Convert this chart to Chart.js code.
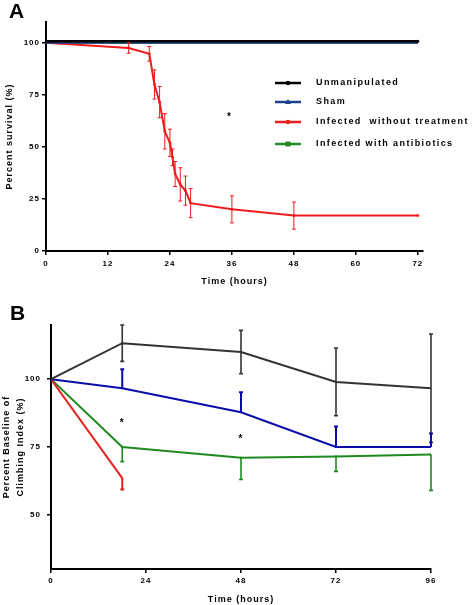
<!DOCTYPE html>
<html><head><meta charset="utf-8">
<script src="https://cdn.jsdelivr.net/npm/chart.js@4"></script>
<style>
html,body{margin:0;padding:0;background:#fff;}
#wrap{position:relative;width:473px;height:605px;overflow:hidden;font-family:"Liberation Sans",Arial,sans-serif;}
canvas{position:absolute;left:0;}
#cA{top:0;} #cB{top:295px;}
.lbl{position:absolute;font-weight:bold;font-size:21px;line-height:1;color:#000;}
</style></head><body>
<div id="wrap">
<canvas id="cA" width="473" height="290"></canvas>
<canvas id="cB" width="473" height="310"></canvas>
<div class="lbl" style="left:9px;top:0px">A</div>
<div class="lbl" style="left:10px;top:302px">B</div>
</div>
<script>
// panel A - survival
const survTime = [0,16,20,21,22,23,24,24.5,25,26,27,28,36,48,72];
const survInfected = [100,97.5,94.7,80,71.5,57.5,52,45,37,32,29,23,20,17,17];
const survInfectedErr = [0,2.5,3.5,7,7.5,8.5,6.5,4,6,8,7,7,6.5,6.5,0];
const survFlatTime = [0,72];
const survUnmanipulated = [100.8,100.8];
const survSham = [100,100];
const survAntibiotics = [100,100];
const survXTicks = [0,12,24,36,48,60,72];
const survYTicks = [0,25,50,75,100];
const survStars = [[35.5,65]];

// panel B - climbing index
const climbTime = [0,18,48,72,96];
const climbUnmanipulated = [100,113.3,110,99,96.7];
const climbUnmanipulatedErr = [0,6.7,8,12.5,20];
const climbSham = [100,96.7,87.8,75,75];
const climbShamErr = [0,7,7.4,7.6,5];
const climbInfectedTime = [0,18];
const climbInfected = [100,63.5];
const climbInfectedErr = [0,4.2];
const climbAntibiotics = [100,75,71,71.5,72.2];
const climbAntibioticsErr = [0,5.4,8,5.5,13.2];
const climbXTicks = [0,24,48,72,96];
const climbYTicks = [50,75,100];
const climbStars = [[18,84.5],[48,78.5]];

const FONT = '"Liberation Sans", Arial, sans-serif';
const pts = (xs, ys) => xs.map((x,i) => ({x, y:ys[i]}));

const spacing = { id:'spacing', beforeDraw(c){ c.ctx.letterSpacing = '1px'; } };

const errorBars = {
  id:'errorBars',
  afterDatasetsDraw(chart){
    const {ctx, scales:{x,y}} = chart;
    chart.data.datasets.forEach(ds => {
      if(!ds.errUp && !ds.errDown) return;
      ctx.save();
      ctx.strokeStyle = ds.borderColor; ctx.lineWidth = ds.errWidth || 1.2;
      ds.data.forEach((p,i) => {
        const up = ds.errUp ? ds.errUp[i] : 0, dn = ds.errDown ? ds.errDown[i] : 0;
        if(!up && !dn) return;
        const px = x.getPixelForValue(p.x), y1 = y.getPixelForValue(p.y+up), y2 = y.getPixelForValue(p.y-dn);
        ctx.beginPath(); ctx.moveTo(px,y1); ctx.lineTo(px,y2);
        if(up){ ctx.moveTo(px-2,y1); ctx.lineTo(px+2,y1); }
        if(dn){ ctx.moveTo(px-2,y2); ctx.lineTo(px+2,y2); }
        ctx.stroke();
      });
      ctx.restore();
    });
  }
};

const stars = {
  id:'stars',
  afterDatasetsDraw(chart, args, opts){
    const {ctx, scales:{x,y}} = chart;
    ctx.save();
    ctx.fillStyle = '#000'; ctx.font = 'bold 10px ' + FONT; ctx.textAlign = 'center'; ctx.textBaseline = 'middle';
    (opts.points || []).forEach(p => ctx.fillText('*', x.getPixelForValue(p[0]), y.getPixelForValue(p[1]) + 2));
    ctx.restore();
  }
};

const boxLegend = {
  id:'boxLegend',
  afterDraw(chart, args, opts){
    if(!opts.rows) return;
    const ctx = chart.ctx;
    ctx.save();
    ctx.font = 'bold 9px ' + FONT; ctx.textBaseline = 'middle'; ctx.letterSpacing = '1.4px';
    chart.data.datasets.forEach((ds,i) => {
      const yy = opts.rows[i];
      ctx.strokeStyle = ds.borderColor; ctx.fillStyle = ds.borderColor; ctx.lineWidth = 2.5;
      ctx.beginPath(); ctx.moveTo(opts.x0, yy); ctx.lineTo(opts.x1, yy); ctx.stroke();
      const cx = (opts.x0 + opts.x1)/2;
      ctx.beginPath();
      if(ds.pointStyle === 'triangle'){ ctx.moveTo(cx,yy-3); ctx.lineTo(cx+3,yy+2); ctx.lineTo(cx-3,yy+2); ctx.closePath(); ctx.fill(); }
      else if(ds.pointStyle === 'rect'){ ctx.fillRect(cx-2.5,yy-2.5,5,5); }
      else { ctx.arc(cx,yy,2.2,0,Math.PI*2); ctx.fill(); }
      ctx.fillStyle = '#000';
      ctx.fillText(ds.label, opts.tx, yy);
    });
    ctx.restore();
  }
};

function axes(o){
  return {
    x:{ type:'linear', min:o.xMin, max:o.xMax,
      afterBuildTicks:s => { s.ticks = o.xTicks.map(v => ({value:v})); },
      afterFit:s => { s.height = o.xH; },
      border:{ color:'#000', width:2 },
      grid:{ drawOnChartArea:false, drawTicks:true, tickLength:4, color:'#000', lineWidth:1.5 },
      ticks:{ color:'#000', font:{ family:FONT, size:8, weight:'bold' }, padding:o.xPad, maxRotation:0 },
      title:{ display:true, text:'Time (hours)', color:'#000', font:{ family:FONT, size:9, weight:'bold' }, padding:{ top:0, bottom:o.xTitleBottom } }
    },
    y:{ type:'linear', min:o.yMin, max:o.yMax,
      afterBuildTicks:s => { s.ticks = o.yTicks.map(v => ({value:v})); },
      afterFit:s => { s.width = o.yW; },
      border:{ color:'#000', width:2 },
      grid:{ drawOnChartArea:false, drawTicks:true, tickLength:4, color:'#000', lineWidth:1.5 },
      ticks:{ color:'#000', font:{ family:FONT, size:8, weight:'bold' }, padding:o.yPad },
      title:{ display:true, text:o.yTitle, color:'#000', font:{ family:FONT, size:9, weight:'bold', lineHeight:1.5 }, padding:{ top:o.yTitleTop, bottom:0 } }
    }
  };
}

new Chart(document.getElementById('cA'), {
  type:'line',
  data:{ datasets:[
    { label:'Unmanipulated', data:pts(survFlatTime, survUnmanipulated), borderColor:'#000', backgroundColor:'#000', borderWidth:2.5, pointRadius:[0,1.5], pointBorderWidth:0, pointStyle:'circle' },
    { label:'Sham', data:pts(survFlatTime, survSham), borderColor:'#1c3f8c', backgroundColor:'#1c3f8c', borderWidth:2, pointRadius:0, pointStyle:'triangle' },
    { label:'Infected  without treatment', data:pts(survTime, survInfected), borderColor:'#ee1c1c', backgroundColor:'#ee1c1c', borderWidth:2, pointRadius:1.4, pointBorderWidth:0, pointStyle:'circle', errUp:survInfectedErr, errDown:survInfectedErr, errWidth:1 },
    { label:'Infected with antibiotics', data:pts(survFlatTime, survAntibiotics), borderColor:'#1f8a1f', backgroundColor:'#1f8a1f', borderWidth:2, pointRadius:0, pointStyle:'rect' }
  ]},
  options:{ responsive:false, animation:false, devicePixelRatio:1,
    layout:{ padding:{ left:0, top:22, right:50, bottom:0 } },
    scales:axes({ xMin:0, xMax:73, xTicks:survXTicks, xH:39, xPad:4, xTitleBottom:3,
      yMin:0, yMax:110, yTicks:survYTicks, yW:46, yPad:2, yTitle:'Percent survival (%)', yTitleTop:3 }),
    plugins:{ legend:{ display:false }, tooltip:{ enabled:false },
      stars:{ points:survStars },
      boxLegend:{ rows:[83,102,122,144], x0:275, x1:301, tx:316 } }
  },
  plugins:[spacing, errorBars, stars, boxLegend]
});

new Chart(document.getElementById('cB'), {
  type:'line',
  data:{ datasets:[
    { label:'Unmanipulated', data:pts(climbTime, climbUnmanipulated), borderColor:'#333', backgroundColor:'#333', borderWidth:2, pointRadius:1, pointBorderWidth:0, errUp:climbUnmanipulatedErr, errDown:climbUnmanipulatedErr, errWidth:1.6 },
    { label:'Sham', data:pts(climbTime, climbSham), borderColor:'#0b0bab', backgroundColor:'#0b0bab', borderWidth:2, pointRadius:1, pointBorderWidth:0, errUp:climbShamErr, errWidth:2 },
    { label:'Infected  without treatment', data:pts(climbInfectedTime, climbInfected), borderColor:'#e82020', backgroundColor:'#e82020', borderWidth:2, pointRadius:1, pointBorderWidth:0, errDown:climbInfectedErr, errWidth:2 },
    { label:'Infected with antibiotics', data:pts(climbTime, climbAntibiotics), borderColor:'#1f8a1f', backgroundColor:'#1f8a1f', borderWidth:2, pointRadius:1.5, pointBorderWidth:0, pointStyle:'rect', errDown:climbAntibioticsErr, errWidth:1.6 }
  ]},
  options:{ responsive:false, animation:false, devicePixelRatio:1,
    layout:{ padding:{ left:0, top:30, right:42, bottom:0 } },
    scales:axes({ xMin:0, xMax:96, xTicks:climbXTicks, xH:36, xPad:3, xTitleBottom:0,
      yMin:30, yMax:120, yTicks:climbYTicks, yW:51, yPad:6, yTitle:['Percent Baseline of','Climbing Index (%)'], yTitleTop:0 }),
    plugins:{ legend:{ display:false }, tooltip:{ enabled:false }, stars:{ points:climbStars } }
  },
  plugins:[spacing, errorBars, stars]
});
</script>
</body></html>
